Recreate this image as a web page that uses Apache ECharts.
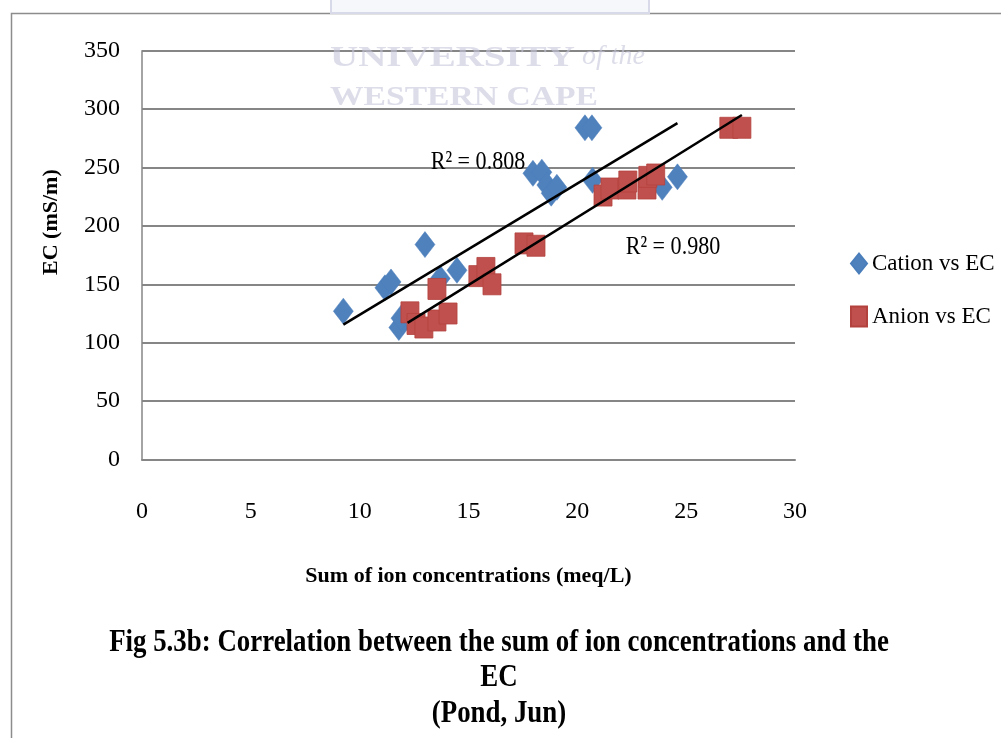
<!DOCTYPE html>
<html>
<head>
<meta charset="UTF-8">
<title>EC vs sum of ions</title>
<script src="https://cdn.jsdelivr.net/npm/echarts@6/dist/echarts.min.js"></script>
<style>
  body { margin: 0; background: #fff; }
  #main { width: 1001px; height: 738px; }
</style>
</head>
<body>
<div id="main"></div>
<script>
// values
var cationX = [9.25, 11.16, 11.44, 11.8, 11.9, 13.0, 13.7, 14.47, 17.96, 18.37, 18.6, 18.8, 19.06, 20.35, 20.67, 20.7, 23.9, 24.6];
var cationY = [127, 147, 152, 113, 121, 184, 155, 162, 245, 246, 235, 228, 233, 284, 284, 239, 233, 242];
var anionX = [12.31, 12.59, 12.95, 13.55, 13.55, 14.06, 15.43, 15.8, 16.08, 17.55, 18.1, 21.18, 21.5, 22.28, 22.32, 23.2, 23.24, 23.6, 26.96, 27.56];
var anionY = [126, 116, 113, 146, 119, 125, 157, 164, 150, 185, 183, 226, 232, 232, 238, 232, 242, 244, 284, 284];
// trendline end points (Excel linear fit)
var cationTrendX = [9.25, 24.6];
var cationTrendY = [115.5, 288];
var anionTrendX = [12.2, 27.56];
var anionTrendY = [117, 295];
var r2Labels = ['R² = 0.808', 'R² = 0.980'];

function pairs(xs, ys) {
  var out = [];
  for (var i = 0; i < xs.length; i++) out.push([xs[i], ys[i]]);
  return out;
}

var myChart = echarts.init(document.getElementById('main'));
var serif = 'Liberation Serif';
var wmColor = 'rgba(196,199,218,0.6)';

var option = {
  backgroundColor: '#fff',
  animation: false,
  textStyle: { fontFamily: serif, color: '#000' },
  grid: { left: 142, right: 206, top: 50.7, bottom: 278.5 },
  legend: {
    orient: 'vertical',
    left: 845,
    top: 247,
    itemGap: 30,
    itemWidth: 16,
    itemHeight: 20,
    textStyle: { fontFamily: serif, fontSize: 23, color: '#000' },
    data: ['Cation vs EC', 'Anion vs EC']
  },
  xAxis: {
    type: 'value',
    min: 0, max: 30, interval: 5,
    name: 'Sum of ion concentrations (meq/L)',
    nameLocation: 'middle',
    nameGap: 106,
    nameTextStyle: { fontFamily: serif, fontWeight: 'bold', fontSize: 22, color: '#000', verticalAlign: 'top' },
    axisLine: { show: true, lineStyle: { color: '#868686', width: 2 } },
    axisTick: { show: false },
    splitLine: { show: false },
    axisLabel: { margin: 40, fontFamily: serif, fontSize: 24, color: '#000' }
  },
  yAxis: {
    type: 'value',
    min: 0, max: 350, interval: 50,
    name: 'EC (mS/m)',
    nameLocation: 'middle',
    nameGap: 80,
    nameRotate: 90,
    nameTextStyle: { fontFamily: serif, fontWeight: 'bold', fontSize: 22, color: '#000', padding: [0, 0, 0, 66] },
    axisLine: { show: true, lineStyle: { color: '#868686', width: 1.5 } },
    axisTick: { show: false },
    splitLine: { show: true, lineStyle: { color: '#868686', width: 2 } },
    axisLabel: { margin: 22, fontFamily: serif, fontSize: 24, color: '#000' }
  },
  series: [
    {
      name: 'Cation vs EC',
      type: 'scatter',
      symbol: 'diamond',
      symbolSize: [20, 26],
      itemStyle: { color: '#4F81BD', borderColor: '#4A7EBB', borderWidth: 0.5, opacity: 1 },
      data: pairs(cationX, cationY),
      z: 2
    },
    {
      name: 'Anion vs EC',
      type: 'scatter',
      symbol: 'rect',
      symbolSize: [18, 21],
      itemStyle: { color: '#C0504D', borderColor: '#B3423F', borderWidth: 0.8, opacity: 1 },
      data: pairs(anionX, anionY),
      z: 3
    },
    {
      name: 'cation trend',
      type: 'line',
      showSymbol: false,
      symbol: 'none',
      lineStyle: { color: '#000', width: 2.5 },
      data: pairs(cationTrendX, cationTrendY),
      z: 5
    },
    {
      name: 'anion trend',
      type: 'line',
      showSymbol: false,
      symbol: 'none',
      lineStyle: { color: '#000', width: 2.5 },
      data: pairs(anionTrendX, anionTrendY),
      z: 5
    }
  ],
  graphic: [
    // outer frame of the chart area
    { type: 'rect', left: 9, top: 11, shape: { width: 1100, height: 800 }, style: { fill: null, stroke: '#8c8c8c', lineWidth: 1.5 }, silent: true },
    // R² labels
    { type: 'text', x: 478, y: 162, scaleX: 0.85, style: { text: r2Labels[0], font: '26px "Liberation Serif"', fill: '#000', textAlign: 'center', textVerticalAlign: 'middle' }, z: 10 },
    { type: 'text', x: 673, y: 247, scaleX: 0.85, style: { text: r2Labels[1], font: '26px "Liberation Serif"', fill: '#000', textAlign: 'center', textVerticalAlign: 'middle' }, z: 10 },
    // caption
    { type: 'text', x: 499, y: 643, scaleX: 0.84, style: { text: 'Fig 5.3b: Correlation between the sum of ion concentrations and the', font: 'bold 32px "Liberation Serif"', fill: '#000', textAlign: 'center', textVerticalAlign: 'middle' } },
    { type: 'text', x: 499, y: 678, scaleX: 0.84, style: { text: 'EC', font: 'bold 32px "Liberation Serif"', fill: '#000', textAlign: 'center', textVerticalAlign: 'middle' } },
    { type: 'text', x: 499, y: 714, scaleX: 0.84, style: { text: '(Pond, Jun)', font: 'bold 32px "Liberation Serif"', fill: '#000', textAlign: 'center', textVerticalAlign: 'middle' } },
    // faint watermark of the source document
    { type: 'rect', left: 330, top: -6, shape: { width: 318, height: 18 }, style: { fill: 'rgba(238,239,248,0.5)', stroke: '#d8dae9', lineWidth: 2 }, silent: true, z: 20 },
    { type: 'text', x: 330, y: 58, scaleX: 1.3, style: { text: 'UNIVERSITY', font: 'bold 30px "Liberation Serif"', fill: wmColor, textVerticalAlign: 'middle' }, silent: true, z: 20 },
    { type: 'text', x: 582, y: 57, style: { text: 'of the', font: 'italic 28px "Liberation Serif"', fill: wmColor, textVerticalAlign: 'middle' }, silent: true, z: 20 },
    { type: 'text', x: 330, y: 98, scaleX: 1.2, style: { text: 'WESTERN CAPE', font: 'bold 28px "Liberation Serif"', fill: wmColor, textVerticalAlign: 'middle' }, silent: true, z: 20 }
  ]
};

myChart.setOption(option);
</script>
</body>
</html>
